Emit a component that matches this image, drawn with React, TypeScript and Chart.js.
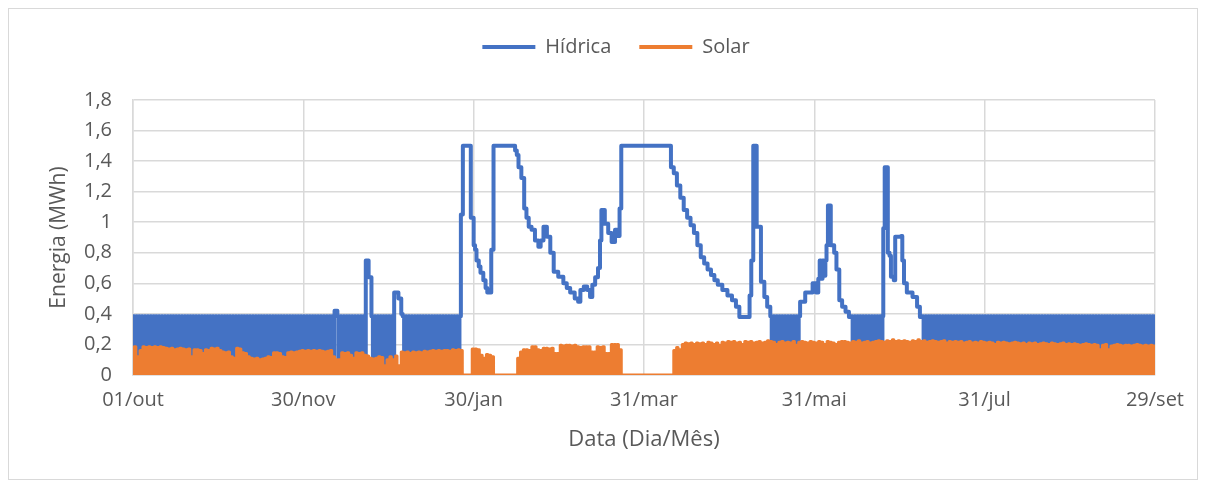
import React, { useEffect, useRef } from "react";
import { Chart, registerables } from "chart.js";

Chart.register(...registerables);

// ---------- data ----------
const xTickLabels = ["01/out", "30/nov", "30/jan", "31/mar", "31/mai", "31/jul", "29/set"];
const seriesNames = ["Hídrica", "Solar"];

// hydro: days where it cycles daily between a night level and a day level
const denseHigh = 0.385;
const denseLow = 0;
const denseRanges: [number, number][] = [
  [0, 71], [72, 82], [84, 92], [95, 115.5], [224.5, 235], [253, 264.3], [278, 360],
];

// hydro: flat (non-cycling) levels, [day, MWh] held until the next point
const hydroSteps: [number, number][] = [
  [71, 0.42],
  [82, 0.75], [83, 0.64],
  [92, 0.54], [93.5, 0.5], [94.5, 0.4],
  [115.5, 1.05], [116.2, 1.5], [119, 1.03], [120, 0.85], [120.5, 0.82], [121, 0.75], [121.8, 0.71],
  [122.4, 0.67], [123.4, 0.62], [124.2, 0.57], [124.8, 0.54], [126.2, 0.82], [127, 1.5],
  [134.6, 1.47], [135.2, 1.44], [135.8, 1.36], [136.8, 1.29], [137.8, 1.09], [138.6, 1.03],
  [139.4, 0.97], [140.4, 0.95], [141.6, 0.88], [142.8, 0.84], [143.6, 0.88], [144.6, 0.97],
  [145.8, 0.905], [147, 0.8], [148.2, 0.676], [149.8, 0.643], [151.6, 0.6], [152.8, 0.57],
  [154, 0.54], [155.6, 0.5], [156.8, 0.48], [157.6, 0.556], [158.8, 0.58], [160, 0.556],
  [161, 0.51], [161.8, 0.59], [162.8, 0.64], [163.8, 0.7], [164.5, 0.88], [165, 1.08],
  [166.2, 0.99], [167.4, 0.93], [168.6, 0.87], [169.8, 0.95], [170.8, 0.91], [171.4, 1.09],
  [172, 1.5], [189.5, 1.36], [190.5, 1.32], [191.6, 1.24], [192.8, 1.16], [194, 1.08],
  [195.2, 1.03], [196.4, 0.98], [197.6, 0.93], [198.8, 0.85], [200, 0.77], [201.2, 0.73],
  [202.4, 0.69], [203.6, 0.654], [204.8, 0.62], [206, 0.59], [207.6, 0.556], [209.4, 0.52],
  [211, 0.49], [212.4, 0.447], [213.6, 0.38], [217.2, 0.52], [217.8, 0.75], [218.5, 1.5],
  [219.7, 0.97], [221.2, 0.61], [222.4, 0.51], [223.4, 0.447],
  [235, 0.48], [236.8, 0.54], [239.4, 0.6], [240.6, 0.54], [241.4, 0.63], [241.9, 0.75],
  [242.4, 0.63], [242.9, 0.75], [243.4, 0.65], [243.9, 0.75], [244.3, 0.85], [244.8, 1.11],
  [245.8, 0.85], [247, 0.8], [247.8, 0.69], [248.8, 0.49], [249.8, 0.447], [251, 0.414],
  [252.2, 0.38],
  [264.3, 0.96], [264.8, 1.36], [265.9, 0.8], [266.5, 0.78], [267, 0.643], [268, 0.62],
  [268.5, 0.905], [270.6, 0.91], [271, 0.75], [271.6, 0.6], [272.6, 0.54], [274.6, 0.51],
  [276.2, 0.447], [277.2, 0.38],
  [360, 0.385],
];

// solar: daily peak (MWh), one value per day; night value is zero
const solarNight = 0;
const solarPeaks: number[] = [
  0.185, 0.12, 0.16, 0.185, 0.18, 0.185, 0.18, 0.185, 0.18, 0.185,
  0.18, 0.175, 0.17, 0.175, 0.165, 0.17, 0.175, 0.17, 0.165, 0.17,
  0.12, 0.165, 0.165, 0.16, 0.14, 0.165, 0.16, 0.175, 0.17, 0.175,
  0.16, 0.15, 0.145, 0.15, 0.12, 0.11, 0.175, 0.17, 0.145, 0.14,
  0.12, 0.11, 0.105, 0.11, 0.1, 0.105, 0.11, 0.12, 0.115, 0.145,
  0.145, 0.14, 0.12, 0.115, 0.145, 0.15, 0.145, 0.15, 0.155, 0.16,
  0.155, 0.16, 0.155, 0.16, 0.155, 0.16, 0.155, 0.15, 0.155, 0.16,
  0.12, 0.1, 0.1, 0.145, 0.14, 0.145, 0.13, 0.11, 0.145, 0.14,
  0.145, 0.13, 0.125, 0.11, 0.105, 0.11, 0.12, 0.115, 0.06, 0.1,
  0.12, 0.1, 0.125, 0.06, 0.15, 0.145, 0.15, 0.14, 0.15, 0.145,
  0.15, 0.145, 0.155, 0.15, 0.155, 0.16, 0.155, 0.16, 0.155, 0.16,
  0.16, 0.155, 0.165, 0.16, 0.165, 0.16, 0, 0, 0, 0.17,
  0.17, 0.165, 0.13, 0.11, 0.135, 0.13, 0.12, 0, 0, 0,
  0, 0, 0, 0, 0, 0.11, 0.15, 0.165, 0.165, 0.16,
  0.185, 0.185, 0.165, 0.16, 0.175, 0.175, 0.17, 0.175, 0.14, 0.14,
  0.195, 0.19, 0.195, 0.195, 0.19, 0.195, 0.185, 0.18, 0.185, 0.185,
  0.185, 0.15, 0.15, 0.185, 0.18, 0.185, 0.14, 0.14, 0.2, 0.2,
  0.2, 0.165, 0, 0, 0, 0, 0, 0, 0, 0,
  0, 0, 0, 0, 0, 0, 0, 0, 0, 0,
  0.16, 0.18, 0.165, 0.2, 0.21, 0.205, 0.21, 0.2, 0.21, 0.205,
  0.21, 0.2, 0.215, 0.21, 0.2, 0.21, 0.195, 0.215, 0.21, 0.22,
  0.215, 0.22, 0.21, 0.215, 0.2, 0.22, 0.215, 0.22, 0.21, 0.215,
  0.22, 0.21, 0.215, 0.225, 0.22, 0.215, 0.2, 0.215, 0.22, 0.21,
  0.215, 0.21, 0.22, 0.195, 0.215, 0.22, 0.215, 0.21, 0.22, 0.215,
  0.21, 0.22, 0.215, 0.2, 0.22, 0.215, 0.21, 0.2, 0.215, 0.22,
  0.22, 0.215, 0.21, 0.22, 0.215, 0.225, 0.21, 0.215, 0.22, 0.21,
  0.215, 0.22, 0.225, 0.22, 0.215, 0.225, 0.22, 0.23, 0.22, 0.225,
  0.22, 0.225, 0.22, 0.215, 0.225, 0.22, 0.23, 0.22, 0.225, 0.215,
  0.22, 0.225, 0.22, 0.215, 0.22, 0.225, 0.21, 0.22, 0.215, 0.22,
  0.215, 0.22, 0.21, 0.215, 0.22, 0.21, 0.215, 0.21, 0.22, 0.215,
  0.21, 0.215, 0.21, 0.2, 0.215, 0.21, 0.215, 0.21, 0.205, 0.21,
  0.215, 0.21, 0.205, 0.21, 0.2, 0.21, 0.205, 0.21, 0.2, 0.205,
  0.21, 0.205, 0.2, 0.21, 0.205, 0.2, 0.205, 0.21, 0.2, 0.205,
  0.2, 0.205, 0.2, 0.195, 0.2, 0.205, 0.2, 0.195, 0.2, 0.195,
  0.165, 0.195, 0.2, 0.165, 0.19, 0.195, 0.2, 0.195, 0.19, 0.195,
  0.195, 0.19, 0.195, 0.2, 0.195, 0.19, 0.195, 0.19, 0.195, 0.19,
];

const HYDRO_COLOR = "#4472C4";
const SOLAR_COLOR = "#ED7D31";
const TEXT_COLOR = "#595959";
const GRID_COLOR = "#d9d9d9";
const FONT = "'Open Sans', 'Noto Sans', sans-serif";
const FS = 20;

function buildHydro() {
  const pts: { x: number; y: number }[] = [];
  for (const [s, e] of denseRanges) {
    let k = 0;
    for (let d = s; d < e - 1e-9; d += 0.5, k++) {
      pts.push({ x: d, y: k % 2 === 0 ? denseHigh : denseLow });
    }
  }
  for (const [d, v] of hydroSteps) pts.push({ x: d, y: v });
  pts.sort((a, b) => a.x - b.x);
  return pts;
}

function buildSolar() {
  const pts: { x: number; y: number }[] = [];
  solarPeaks.forEach((p, i) => {
    pts.push({ x: i, y: solarNight });
    pts.push({ x: i + 0.5, y: p });
  });
  pts.push({ x: solarPeaks.length, y: solarNight });
  return pts;
}

const PAD_LEFT = 65;

export default function App() {
  const ref = useRef<HTMLCanvasElement | null>(null);

  useEffect(() => {
    if (!ref.current) return;
    const chart = new Chart(ref.current, {
      type: "line",
      data: {
        datasets: [
          {
            label: seriesNames[0],
            data: buildHydro(),
            borderColor: HYDRO_COLOR,
            backgroundColor: HYDRO_COLOR,
            borderWidth: 4,
            pointRadius: 0,
            stepped: "before",
            borderJoinStyle: "round",
            borderCapStyle: "round",
            order: 1,
          },
          {
            label: seriesNames[1],
            data: buildSolar(),
            borderColor: SOLAR_COLOR,
            backgroundColor: SOLAR_COLOR,
            borderWidth: 3,
            pointRadius: 0,
            stepped: "before",
            borderJoinStyle: "round",
            order: 0,
          },
        ],
      },
      options: {
        animation: false,
        responsive: true,
        maintainAspectRatio: false,
        layout: { padding: { top: 0, left: PAD_LEFT, right: 39, bottom: 0 } },
        plugins: {
          tooltip: { enabled: false },
          title: {
            display: true,
            text: "",
            weight: 500,
            position: "top",
            padding: { top: 0, bottom: 9 },
            font: { size: 20, family: FONT },
          } as any,
          legend: {
            position: "top",
            labels: {
              color: TEXT_COLOR,
              font: { size: FS, family: FONT },
              boxWidth: 53,
              boxHeight: 4,
              padding: 28,
              sort: (a: any, b: any) => a.datasetIndex - b.datasetIndex,
              generateLabels: (c: any) =>
                Chart.defaults.plugins.legend.labels
                  .generateLabels(c)
                  .map((l: any) => ({ ...l, lineWidth: 0, fillStyle: l.strokeStyle })),
            },
          },
        },
        scales: {
          x: {
            type: "linear",
            min: 0,
            max: 360,
            afterFit: (s: any) => {
              s.height = 104;
            },
            ticks: {
              stepSize: 60,
              color: TEXT_COLOR,
              font: { size: FS, family: FONT },
              padding: 13,
              maxRotation: 0,
              callback: (_v: any, i: number) => xTickLabels[i] ?? "",
            },
            grid: { color: GRID_COLOR, lineWidth: 1.5, drawTicks: false },
            border: { color: GRID_COLOR, width: 1.5 },
            title: {
              display: true,
              text: "Data (Dia/Mês)",
              color: TEXT_COLOR,
              font: { size: 22, family: FONT },
              padding: { top: 0, bottom: 26 },
            },
          },
          y: {
            min: 0,
            max: 1.8,
            afterFit: (s: any) => {
              s.width = 124 - PAD_LEFT;
            },
            ticks: {
              stepSize: 0.2,
              color: TEXT_COLOR,
              font: { size: FS, family: FONT },
              padding: 21,
              callback: (v: any) => String(Number(Number(v).toFixed(1))).replace(".", ","),
            },
            grid: { color: GRID_COLOR, lineWidth: 1.5, drawTicks: false },
            border: { color: GRID_COLOR, width: 1.5 },
            title: {
              display: true,
              text: "Energia (MWh)",
              color: TEXT_COLOR,
              font: { size: 21, family: FONT },
              padding: { top: 50 - PAD_LEFT - 12.6, bottom: 0 },
            },
          },
        },
      },
    });
    return () => chart.destroy();
  }, []);

  return (
    <div
      style={{
        width: 1188,
        height: 470,
        border: "1px solid #d9d9d9",
        position: "relative",
        background: "#fff",
      }}
    >
      <canvas ref={ref} />
    </div>
  );
}
